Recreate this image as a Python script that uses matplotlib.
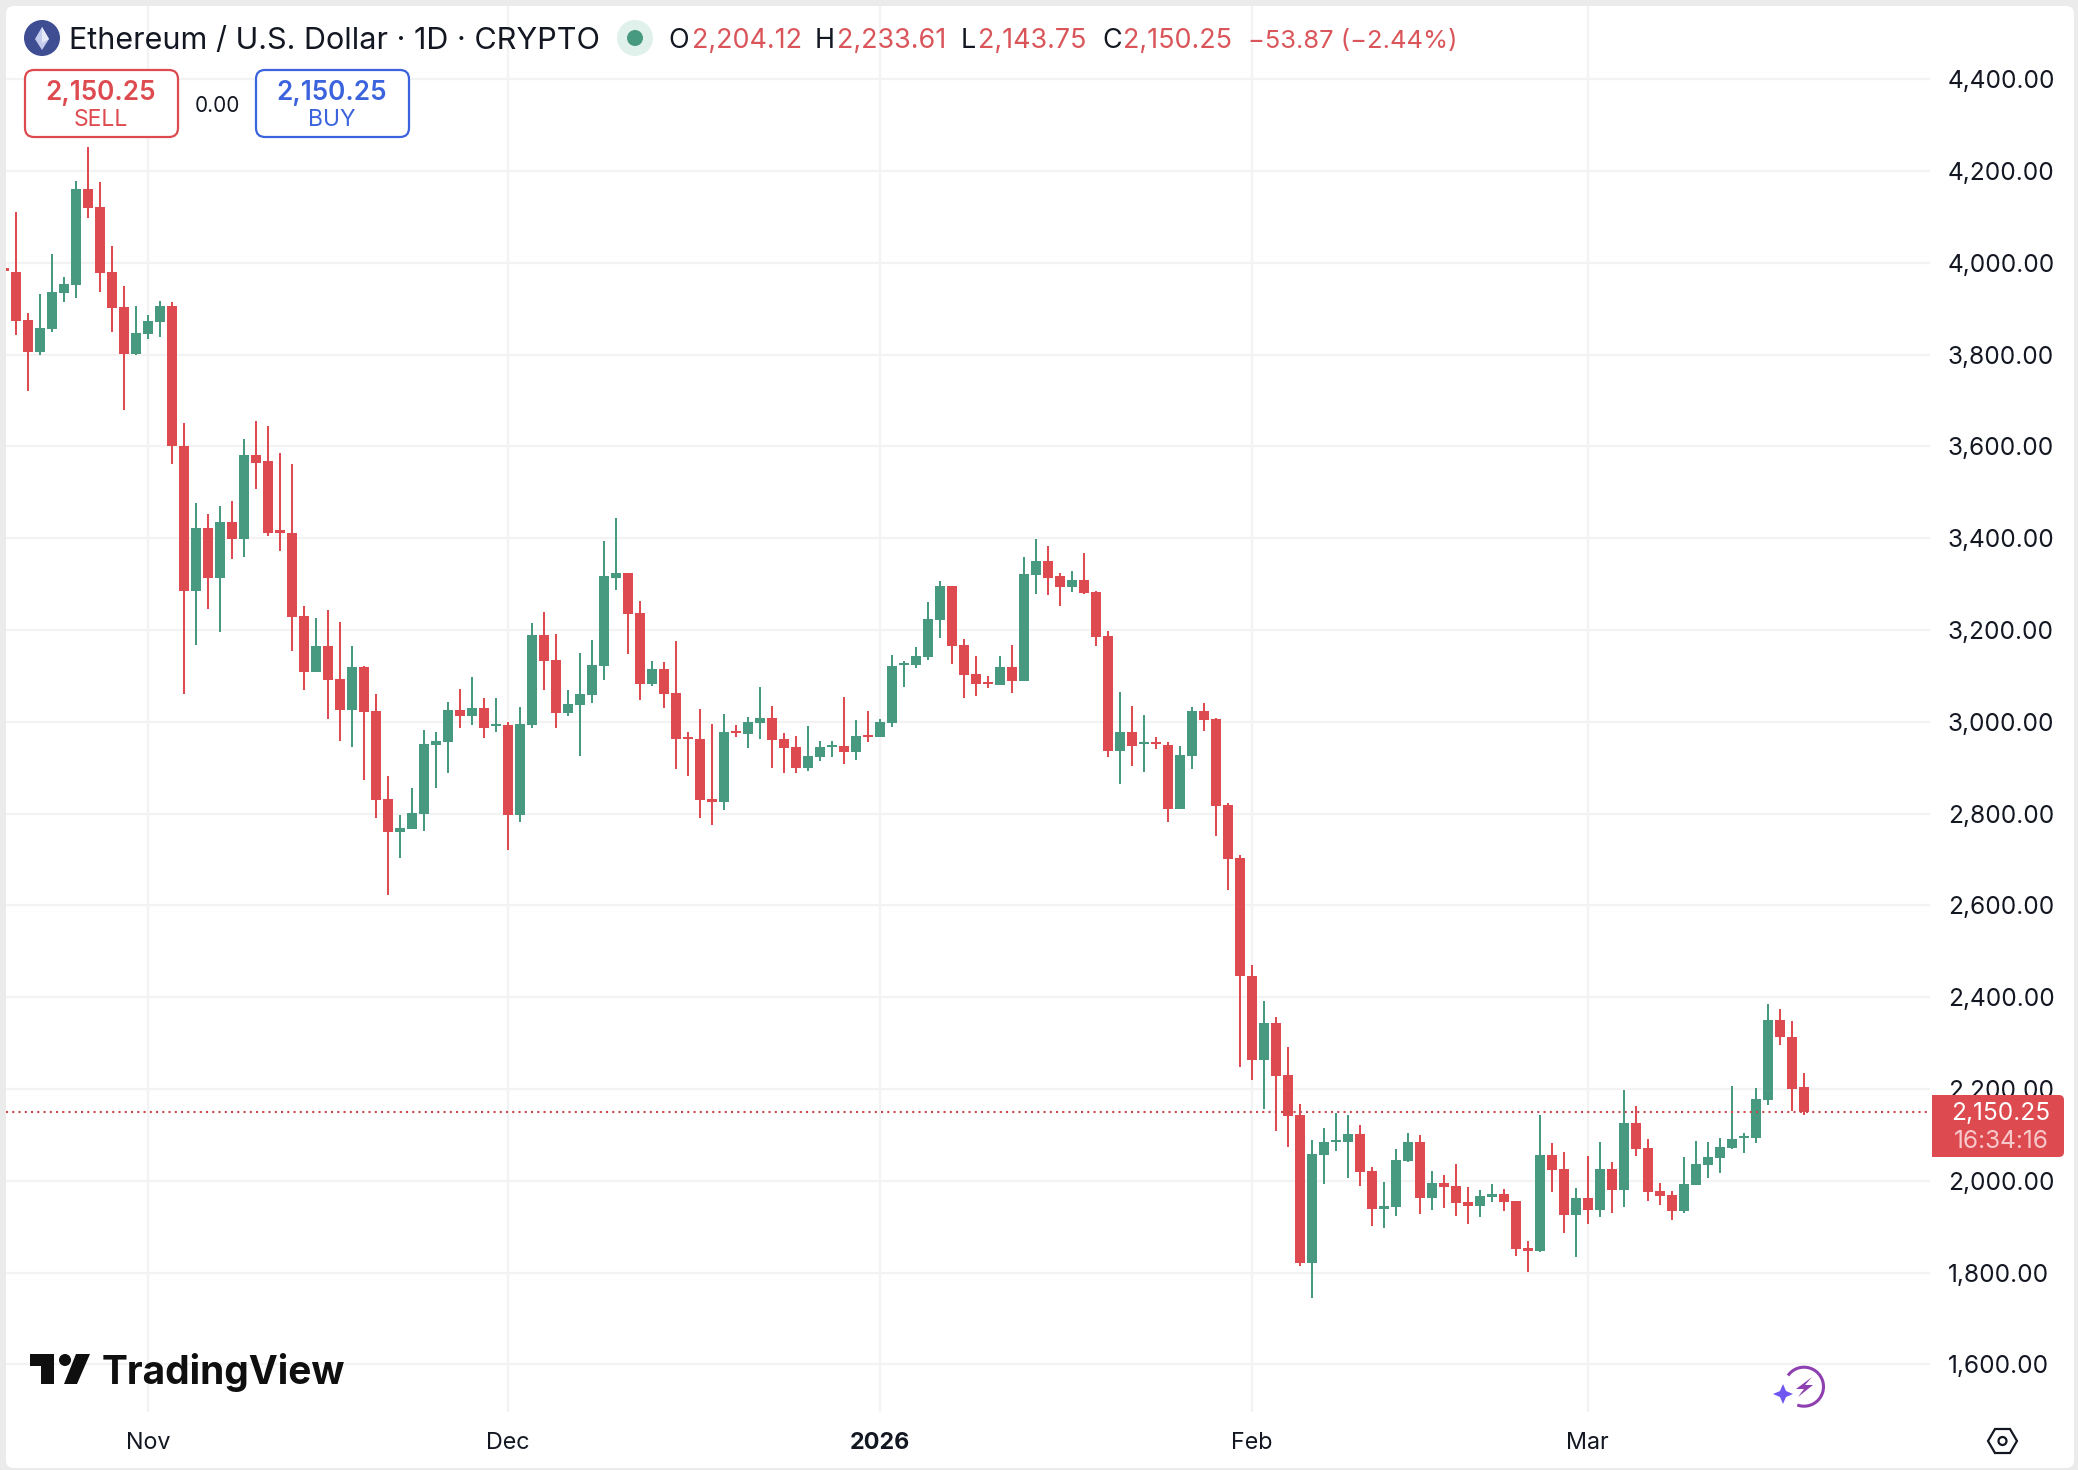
import numpy as np
import pandas as pd
import matplotlib
matplotlib.use("Agg")
import matplotlib.pyplot as plt
import matplotlib.dates as mdates
from matplotlib.patches import FancyBboxPatch, Circle, Polygon, Arc, Rectangle

plt.rcParams['font.family'] = ['Inter', 'DejaVu Sans']

# daily candles, first one is the sliver cut off at the left edge
first_day = "2025-10-20"

opens = [3988,
    3980,3875,3806,3856,3934,3951,4160,4121,3980,3904,3801,3845,3871,3906,3601,3284,3423,3312,3434,3397,
    3582,3567,3417,3412,3230,3108,3164,3093,3025,3119,3023,2832,2760,2767,2799,2949,2956,3025,3012,3030,
    2991,2993,2797,2993,3188,3134,3019,3036,3058,3121,3314,3323,3236,3082,3114,3062,2967,2962,2831,2825,
    2980,2973,2997,3008,2962,2945,2899,2923,2945,2947,2934,2971,2967,2997,3123,3123,3141,3221,3295,3167,
    3104,3086,3080,3119,3088,3319,3351,3317,3293,3308,3282,3186,2936,2978,2951,2956,2949,2810,2925,3023,
    3006,2819,2704,2447,2264,2343,2230,2143,1821,2056,2084,2084,2101,2021,1938,1943,2043,2084,1962,1995,
    1988,1954,1945,1964,1971,1956,1854,1847,2056,2025,1925,1962,1936,2025,1980,2125,2071,1978,1969,1934,
    1991,2034,2049,2071,2093,2093,2175,2351,2314,2204.12]
highs = [3988,
    4110,3890,3932,4020,3968,4179,4251,4175,4036,3949,3906,3886,3917,3914,3651,3477,3453,3470,3481,3616,
    3655,3644,3585,3562,3253,3227,3244,3218,3166,3122,3060,2881,2797,2856,2981,2977,3042,3071,3097,3051,
    3051,2999,3031,3214,3240,3192,3069,3149,3179,3394,3444,3325,3264,3133,3129,3175,2977,3027,2995,3017,
    2993,3010,3075,3034,2975,2969,2991,2958,2958,3054,3004,3023,3006,3145,3133,3162,3260,3306,3295,3180,
    3143,3099,3143,3167,3358,3397,3382,3325,3328,3367,3284,3197,3064,3034,3014,2967,2956,2947,3032,3041,
    3008,2823,2710,2471,2391,2356,2291,2167,2088,2114,2147,2143,2121,2030,1997,2069,2104,2099,2021,2012,
    2036,1986,1980,1993,1982,1956,1869,2143,2082,2062,1984,2054,2084,2041,2197,2162,2091,1995,1978,2051,
    2086,2084,2093,2206,2104,2201,2384,2373,2347,2233.61]
lows = [3982,
    3843,3720,3798,3848,3915,3924,4098,3937,3848,3680,3798,3833,3839,3561,3060,3167,3245,3196,3354,3358,
    3506,3404,3371,3154,3069,3108,3006,2958,2945,2873,2791,2623,2704,2767,2762,2856,2888,2986,2993,2964,
    2978,2721,2782,2986,3069,2986,3012,2925,3041,3091,3288,3147,3047,3078,3030,2897,2882,2791,2775,2808,
    2967,2943,2962,2899,2888,2888,2893,2914,2923,2908,2917,2956,2967,2988,3075,3117,3134,3182,3125,3051,
    3056,3073,3080,3062,3088,3278,3275,3251,3282,3278,3164,2923,2865,2904,2891,2941,2782,2810,2897,2980,
    2751,2634,2248,2219,2156,2108,2073,1815,1745,1993,2064,2006,1988,1901,1897,1923,2041,1928,1936,1941,
    1923,1906,1921,1954,1934,1836,1801,1845,1975,1886,1834,1906,1921,1930,1943,2054,1956,1947,1914,1930,
    1991,2006,2017,2069,2060,2082,2164,2295,2151,2143.75]
closes = [3982,
    3873,3806,3858,3936,3954,4160,4119,3978,3901,3801,3847,3873,3906,3601,3284,3423,3312,3434,3397,3582,
    3564,3412,3412,3228,3108,3164,3091,3025,3119,3021,2830,2760,2769,2801,2951,2958,3025,3012,3030,2986,
    2995,2797,2995,3188,3132,3019,3038,3060,3123,3317,3323,3234,3082,3114,3060,2962,2962,2830,2825,2978,
    2975,2999,3008,2960,2943,2899,2925,2945,2949,2934,2969,2967,2999,3121,3128,3143,3223,3295,3164,3101,
    3082,3082,3119,3088,3321,3351,3314,3293,3308,3280,3184,2936,2978,2947,2956,2951,2810,2928,3023,3004,
    2817,2701,2446,2264,2343,2228,2141,1821,2058,2084,2088,2101,2019,1938,1945,2045,2084,1962,1995,1986,
    1951,1945,1967,1971,1954,1851,1847,2056,2023,1925,1962,1936,2025,1980,2125,2069,1975,1967,1934,1993,
    2036,2051,2073,2091,2097,2178,2351,2312,2199,2150.25]

price_ticks = [1600, 1800, 2000, 2200, 2400, 2600, 2800, 3000, 3200, 3400, 3600, 3800, 4000, 4200, 4400]
month_days = ["2025-11-01", "2025-12-01", "2026-01-01", "2026-02-01", "2026-03-01"]
month_labels = ["Nov", "Dec", "2026", "Feb", "Mar"]
last_price = 2150.25

RED = "#DD4A4F"
TEXT_RED = "#D9555A"
GREEN = "#47997F"
BLUE = "#3B63DD"
INK = "#131722"

W, H = 2078, 1470
fig = plt.figure(figsize=(W / 100, H / 100), dpi=100, facecolor="#EBEBEB")

# background panel, everything on bg/top axes is placed in pixels
bg = fig.add_axes([0, 0, 1, 1], zorder=0)
bg.set_xlim(0, W)
bg.set_ylim(H, 0)
bg.axis("off")
bg.add_patch(FancyBboxPatch((10, 10), 2060, 1454, boxstyle="round,pad=4,rounding_size=8", fc="white", ec="none"))

# chart axes
left, right, top_px, bottom_px = 6, 1930, 6, 1412
ax = fig.add_axes([left / W, 1 - bottom_px / H, (right - left) / W, (bottom_px - top_px) / H], zorder=1)
ax.set_facecolor("none")

days = mdates.date2num(pd.date_range(first_day, periods=len(opens), freq="D"))
opens = np.array(opens)
highs = np.array(highs)
lows = np.array(lows)
closes = np.array(closes)
cols = [RED if c < o else GREEN for o, c in zip(opens, closes)]

nov1 = mdates.date2num(pd.Timestamp("2025-11-01"))
ax.set_xlim(nov1 + (left - 147.8) / 12, nov1 + (right - 147.8) / 12)
ax.set_ylim(2000 - (bottom_px - 1180.7) / 0.459, 2000 + (1180.7 - top_px) / 0.459)

ax.vlines(days, lows, highs, colors=cols, linewidth=1.45, zorder=3)
ax.bar(days, np.abs(closes - opens), bottom=np.minimum(opens, closes), width=0.83, color=cols, linewidth=0, zorder=4)
ax.axhline(last_price, color="#C9484C", linewidth=1.5, linestyle=(0, (1, 2)), zorder=5)

ax.yaxis.tick_right()
ax.set_yticks(price_ticks)
ax.set_yticklabels([f"{p:,.2f}" for p in price_ticks], fontsize=17.6, color=INK)
ax.set_xticks(mdates.date2num(pd.to_datetime(month_days)))
ax.set_xticklabels(month_labels, fontsize=16.8, color=INK)
ax.get_xticklabels()[2].set_fontweight("bold")
ax.tick_params(axis="both", length=0)
ax.tick_params(axis="y", pad=12.8)
ax.tick_params(axis="x", pad=14.5)
ax.grid(True, color="#F3F3F3", linewidth=1.6)
ax.set_axisbelow(True)
for s in ax.spines.values():
    s.set_visible(False)

# everything on top of the chart
ov = fig.add_axes([0, 0, 1, 1], zorder=2)
ov.set_xlim(0, W)
ov.set_ylim(H, 0)
ov.axis("off")

# symbol icon
ov.add_patch(Circle((42, 38), 18, fc="#3F4E93", ec="none"))
ov.add_patch(Polygon([(42, 27), (49, 39), (42, 50), (35, 39)], fc="#C3CCEC", ec="none"))
ov.add_patch(Polygon([(42, 27), (49, 39), (42, 43)], fc="#E6EAF8", ec="none"))
ov.text(69, 41, "Ethereum / U.S. Dollar · 1D · CRYPTO", fontsize=22, color=INK, va="center", ha="left")
ov.add_patch(Circle((635, 38), 18, fc="#E0F0EA", ec="none"))
ov.add_patch(Circle((635, 38), 8, fc=GREEN, ec="none"))

# OHLC strip
for x, s, c, fs in [(668, "O", INK, 19.4), (692, "2,204.12", TEXT_RED, 19.4), (815, "H", INK, 19.4), (837, "2,233.61", TEXT_RED, 19.4),
                    (961, "L", INK, 19.4), (978, "2,143.75", TEXT_RED, 19.4), (1102, "C", INK, 19.4), (1123, "2,150.25", TEXT_RED, 19.4),
                    (1248, "−53.87 (−2.44%)", TEXT_RED, 18.4)]:
    ov.text(x, 41, s, fontsize=fs, color=c, va="center", ha="left")

# sell / buy buttons
for x0, col, label in [(25, RED, "SELL"), (256, BLUE, "BUY")]:
    ov.add_patch(FancyBboxPatch((x0 + 7, 77), 139, 53, boxstyle="round,pad=7,rounding_size=9", fc="white", ec=col, lw=1.6))
    ov.text(x0 + 76, 93, "2,150.25", fontsize=18.8, fontweight="semibold", color=col, ha="center", va="center")
    ov.text(x0 + 76, 120, label, fontsize=16.5, color=col, ha="center", va="center")
ov.text(217, 106, "0.00", fontsize=15, color=INK, ha="center", va="center")

# last price tag
ov.add_patch(FancyBboxPatch((1937, 1100), 122, 52, boxstyle="round,pad=5,rounding_size=5", fc=RED, ec="none"))
ov.add_patch(Rectangle((1932, 1095), 12, 62, fc=RED, ec="none"))
ov.text(2001, 1113.5, "2,150.25", fontsize=17.6, color="white", ha="center", va="center")
ov.text(2001, 1141, "16:34:16", fontsize=17.6, color="#F7C9CB", ha="center", va="center")

# TradingView logo
ov.add_patch(Polygon([(30, 1354), (54, 1354), (54, 1384), (41, 1384), (41, 1366), (30, 1366)], fc="#0F0F0F", ec="none"))
ov.add_patch(Circle((65, 1360), 6, fc="#0F0F0F", ec="none"))
ov.add_patch(Polygon([(76, 1354), (90, 1354), (77, 1384), (64, 1384)], fc="#0F0F0F", ec="none"))
ov.text(102, 1384, "TradingView", fontsize=28, fontweight="bold", color="#0F0F0F", va="baseline", ha="left")

# purple replay icon
ov.add_patch(Arc((1804, 1386.7), 39, 39, theta1=-145, theta2=110, color="#8E3FB0", lw=2.2))
ov.add_patch(Polygon([(1812, 1377), (1796, 1389), (1804, 1389), (1798, 1397), (1813, 1385), (1805, 1385)], fc="#8E3FB0", ec="none"))
ov.add_patch(Polygon([(1773, 1394), (1780, 1391), (1783, 1384), (1786, 1391), (1793, 1394), (1786, 1397), (1783, 1404), (1780, 1397)],
                     fc="#6E56F0", ec="none"))

# settings hexagon
ov.add_patch(Polygon([(1988, 1441), (1995, 1429), (2010, 1429), (2017, 1441), (2010, 1453), (1995, 1453)], fc="none", ec="#131722", lw=1.6))
ov.add_patch(Circle((2002.5, 1441), 4, fc="none", ec="#131722", lw=1.6))

fig.savefig("out.png", dpi=100, facecolor=fig.get_facecolor())
